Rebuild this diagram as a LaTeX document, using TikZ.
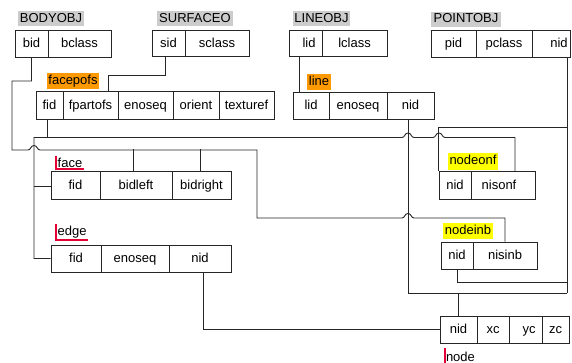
\documentclass[tikz,border=0pt]{standalone}
\usepackage{fontspec}
\setmainfont{Liberation Sans}
\definecolor{tagGray}{RGB}{204,204,204}
\definecolor{tagOrange}{RGB}{255,153,0}
\definecolor{tagYellow}{RGB}{255,255,0}
\definecolor{markRed}{RGB}{228,0,55}
% one field of a record: name, left x, right x, top y, bottom y, text
\newcommand\fld[6]{\node[cell, minimum width={#3-#2}, minimum height={#5-#4}] (#1) at ({(#2+#3)/2},{(#4+#5)/2}) {#6};}
% a small hump where a wire crosses another one
\newcommand\lhop[2]{-- ({#1-6},#2) .. controls ({#1-3},#2) and ({#1-3.5},{#2-4.5}) .. (#1,{#2-4.5}) .. controls ({#1+3.5},{#2-4.5}) and ({#1+3},#2) .. ({#1+6},#2)}
\begin{document}
\begin{tikzpicture}[x=1pt,y=-1pt,
  every node/.style={font=\fontsize{13}{15}\selectfont},
  cell/.style={draw=black!85, line width=1pt, inner sep=0pt, text height=9.5pt, text depth=2.5pt},
  wire/.style={draw=black!85, line width=0.9pt},
  tag/.style={inner sep=0pt, minimum height=15pt, text height=9.5pt, text depth=2.5pt},
  marked/.style={anchor=base west, inner xsep=1.3pt, inner ysep=1pt},
  redmark/.style={draw=markRed, line width=2pt}]
\useasboundingbox (0,0) rectangle (572,363);

% record names
\node[tag, fill=tagGray, minimum width=66pt] (t-bodyobj) at (51,19) {BODYOBJ};
\node[tag, fill=tagGray, minimum width=76pt] (t-surface) at (195,19) {SURFACEO};
\node[tag, fill=tagGray, minimum width=57pt] (t-lineobj) at (321.5,19) {LINEOBJ};
\node[tag, fill=tagGray, minimum width=70pt] (t-pointobj) at (466,19.5) {POINTOBJ};
\node[tag, fill=tagOrange, minimum width=52pt, minimum height=16pt] (t-facepofs) at (73,81) {facepofs};
\node[tag, fill=tagOrange, minimum width=24pt, minimum height=16pt] (t-line) at (319,82) {line};
\node[tag, fill=tagYellow, minimum width=50pt, minimum height=17pt] (t-nodeonf) at (473,161.5) {nodeonf};
\node[tag, fill=tagYellow, minimum width=50pt, minimum height=16pt] (t-nodeinb) at (468,231) {nodeinb};

\node[marked] (t-face) at (56.2,168) {face};
\draw[redmark] ([yshift=1.5pt]t-face.north west) |- (t-face.south east);
\node[marked] (t-edge) at (56.2,236) {edge};
\draw[redmark] ([yshift=1.5pt]t-edge.north west) |- (t-edge.south east);
\node[marked] (t-node) at (444.5,361.5) {node};
\draw[redmark] ([yshift=3pt]t-node.north west) -- ++(0,16);

% BODYOBJ
\fld{bo-bid}{15}{48}{30.5}{57.5}{bid}
\fld{bo-bclass}{48}{111}{30.5}{57.5}{bclass}
% SURFACEO
\fld{so-sid}{152}{185}{30.5}{57}{sid}
\fld{so-sclass}{185}{249}{30.5}{57}{sclass}
% LINEOBJ
\fld{lo-lid}{289}{322}{31}{57}{\hspace*{7pt}lid}
\fld{lo-lclass}{322}{387}{31}{57}{lclass}
% POINTOBJ
\fld{po-pid}{431}{476}{31}{58}{pid}
\fld{po-pclass}{476}{532}{31}{58}{pclass}
\fld{po-nid}{532}{570}{31}{58}{\hspace*{16pt}nid}
% facepofs
\fld{fp-fid}{36}{63}{92}{120}{fid}
\fld{fp-fpartofs}{63}{118}{92}{120}{fpartofs}
\fld{fp-enoseq}{118}{173}{92}{120}{enoseq}
\fld{fp-orient}{173}{219}{92}{120}{orient}
\fld{fp-texturef}{219}{274}{92}{120}{texturef}
% line
\fld{ln-lid}{293}{329}{93}{120}{lid}
\fld{ln-enoseq}{329}{387}{93}{120}{enoseq}
\fld{ln-nid}{387}{434}{93}{120}{nid}
% face
\fld{fa-fid}{51}{100}{172}{200}{fid}
\fld{fa-bidleft}{100}{172}{172}{200}{bidleft}
\fld{fa-bidright}{172}{231}{172}{200}{bidright}
% edge
\fld{ed-fid}{51}{101}{245}{272}{fid}
\fld{ed-enoseq}{101}{169}{245}{272}{enoseq}
\fld{ed-nid}{169}{231}{245}{272}{nid}
% nodeonf
\fld{no-nid}{439}{471}{172}{200}{nid}
\fld{no-nisonf}{471}{535}{172}{200}{nisonf\hspace*{8pt}}
% nodeinb
\fld{ni-nid}{441}{473}{242}{269}{nid}
\fld{ni-nisinb}{473}{537}{242}{269}{nisinb}
% node
\fld{nd-nid}{440}{477}{316}{343}{nid}
\fld{nd-xc}{477}{509}{316}{343}{xc}
\fld{nd-yc}{509}{542}{316}{343}{\hspace*{7pt}yc}
\fld{nd-zc}{542}{569}{316}{343}{zc}

% junction points of the wires
\coordinate (pn-bus) at (567,293);
\coordinate (pn-onf) at (567,127);
\coordinate (pn-inb) at (567,282);

% body id -> face sides and node-in-body
\draw[wire] (bo-bid.south) |- (12,81) -- (12,150) \lhop{34}{150} -- (257,150) -- (257,218) \lhop{408}{218} -| (ni-nisinb.north);
\draw[wire] ([xshift=-3pt]fa-bidleft.north) -- ++(0,-22);
\draw[wire] ([xshift=-1.5pt]fa-bidright.north) -- ++(0,-22);

% surface id -> face part of surface
\draw[wire] ([xshift=-3.5pt]so-sid.south) -- ++(0,17.5) -| ([xshift=17.5pt]fp-fpartofs.north);

% line id
\draw[wire] ([xshift=-6.5pt]lo-lid.south) -- ([xshift=-12pt]ln-lid.north);

% face id network
\draw[wire] ([xshift=-2.5pt]fp-fid.south) -- ++(0,17.5);
\draw[wire] (ed-fid.west) -| (34,137.5) \lhop{408}{137.5} \lhop{439}{137.5} -| ([xshift=12pt]no-nisonf.north);
\draw[wire] (fa-fid.west) -- ++(-17,0);

% node id network
\draw[wire] ([xshift=-2.5pt]ln-nid.south) |- (pn-bus);
\draw[wire] ([xshift=16pt]po-nid.south) -- (pn-bus);
\draw[wire] (pn-onf) -| (no-nid.north west);
\draw[wire] (pn-inb) -| (ni-nid.south);
\draw[wire] (nd-nid.north) -- ++(0,-23);
\draw[wire] ([xshift=3pt]ed-nid.south) |- (nd-nid.west);
\end{tikzpicture}
\end{document}
